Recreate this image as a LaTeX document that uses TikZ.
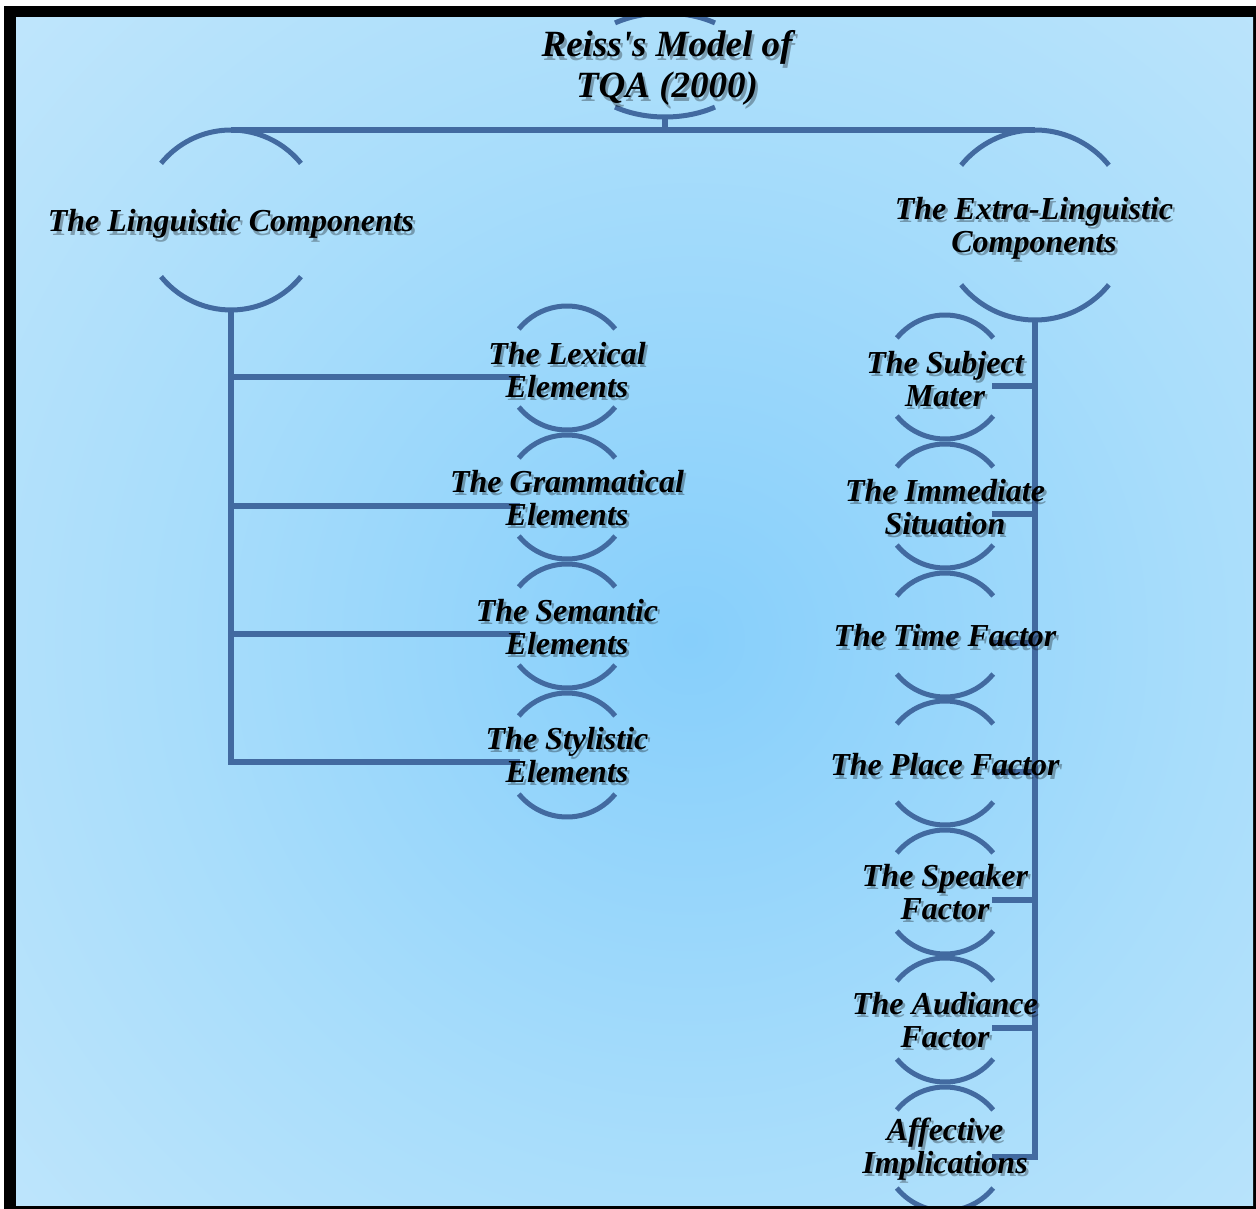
\documentclass[tikz,border=0pt]{standalone}
\usepackage{fontspec}
\setmainfont{Liberation Serif}
\usetikzlibrary{shapes.geometric}
\definecolor{linec}{RGB}{66,106,160}
\definecolor{bgcA}{RGB}{135,207,251}
\definecolor{bgcB}{RGB}{168,221,251}
\definecolor{bgcC}{RGB}{204,234,252}
\definecolor{bgcD}{RGB}{218,238,252}
\pgfdeclareradialshading{bgshade}{\pgfpoint{0bp}{0bp}}{color(0bp)=(bgcA); color(16bp)=(bgcB); color(36bp)=(bgcC); color(50bp)=(bgcD)}
\newcommand\ringarcs[2]{%
  \draw[arcline] ([shift={(39:#2)}]#1.center) arc[start angle=39,end angle=141,radius=#2];
  \draw[arcline] ([shift={(219:#2)}]#1.center) arc[start angle=219,end angle=321,radius=#2];}
\newcommand\shlabel[5][lbltext]{%
  \node[#1, text opacity=0.3] at (#3+2.5,-#4-3.5) {#5};
  \node[#1] (#2) at (#3,-#4) {#5};}
\begin{document}
\begin{tikzpicture}[x=1pt,y=1pt,
  conn/.style={draw=linec, line width=5.5pt},
  arcline/.style={draw=linec, line width=5pt},
  hub/.style={circle, inner sep=0pt, draw=none},
  lbltext/.style={font=\bfseries\itshape\fontsize{32}{33}\selectfont, align=center, inner sep=0pt, text=black},
  titletext/.style={font=\bfseries\itshape\fontsize{37}{41}\selectfont, align=center, inner sep=0pt, text=black}]
\useasboundingbox (0,0) rectangle (1256,-1209);
% frame and background
\fill[white] (0,0) rectangle (1256,-1209);
\fill[black] (4,-6) rectangle (1256,-1209);
\begin{scope}
\clip (16,-18) rectangle (1253,-1205);
\shade[shading=bgshade] (-110,160) rectangle (1490,-1440);
% shape anchors
\node[hub, ellipse, minimum width=170pt, minimum height=104pt] (title) at (665,-65) {};
\node[hub, minimum size=180pt] (ling) at (231,-220) {};
\node[hub, minimum size=190pt] (extra) at (1035,-225) {};
\foreach \n/\yy in {lex/368, gram/497, sem/626, sty/755}
  \node[hub, minimum size=124pt] (\n) at (567,-\yy) {};
\foreach \n/\yy in {subj/377, imm/506, time/635, place/763, speak/892, aud/1020, aff/1149}
  \node[hub, minimum size=124pt] (\n) at (945,-\yy) {};
% connector end points
\coordinate (lexin) at (520,-377);
\coordinate (gramin) at (520,-506);
\coordinate (semin) at (520,-634);
\coordinate (styin) at (520,-762);
\coordinate (subjin) at (992,-386);
\coordinate (immin) at (992,-514);
\coordinate (timein) at (992,-643);
\coordinate (placein) at (992,-772);
\coordinate (speakin) at (992,-900);
\coordinate (audin) at (992,-1028);
\coordinate (affin) at (992,-1157);
% connectors
\draw[conn] (ling.north) -- (ling.north -| extra.north);
\draw[conn] (title.south) -- (title.south |- ling.north);
\foreach \c in {lexin, gramin, semin, styin}
  \draw[conn] (ling.south) |- (\c);
\foreach \c in {subjin, immin, timein, placein, speakin, audin, affin}
  \draw[conn] (extra.south) |- (\c);
% arcs
\draw[arcline] ([shift={(54:85pt and 52pt)}]title.center) arc[start angle=54,end angle=126,x radius=85pt,y radius=52pt];
\draw[arcline] ([shift={(234:85pt and 52pt)}]title.center) arc[start angle=234,end angle=306,x radius=85pt,y radius=52pt];
\ringarcs{ling}{90}
\ringarcs{extra}{95}
\foreach \n in {lex, gram, sem, sty, subj, imm, time, place, speak, aud, aff}
  {\ringarcs{\n}{62}}
% labels
\shlabel[titletext]{title-t}{667}{68}{Reiss\textquotesingle s Model of\\TQA (2000)}
\shlabel{ling-t}{231}{224}{The Linguistic Components}
\shlabel{extra-t}{1034}{228}{The Extra-Linguistic\\Components}
\shlabel{lex-t}{567}{370}{The Lexical\\Elements}
\shlabel{gram-t}{567}{498}{The Grammatical\\Elements}
\shlabel{sem-t}{567}{627}{The Semantic\\Elements}
\shlabel{sty-t}{567}{755}{The Stylistic\\Elements}
\shlabel{subj-t}{945}{379}{The Subject\\Mater}
\shlabel{imm-t}{945}{507}{The Immediate\\Situation}
\shlabel{time-t}{945}{636}{The Time Factor}
\shlabel{place-t}{945}{765}{The Place Factor}
\shlabel{speak-t}{945}{892}{The Speaker\\Factor}
\shlabel{aud-t}{945}{1020}{The Audiance\\Factor}
\shlabel{aff-t}{945}{1149}{Affective\\Implications}
\end{scope}
\end{tikzpicture}
\end{document}
